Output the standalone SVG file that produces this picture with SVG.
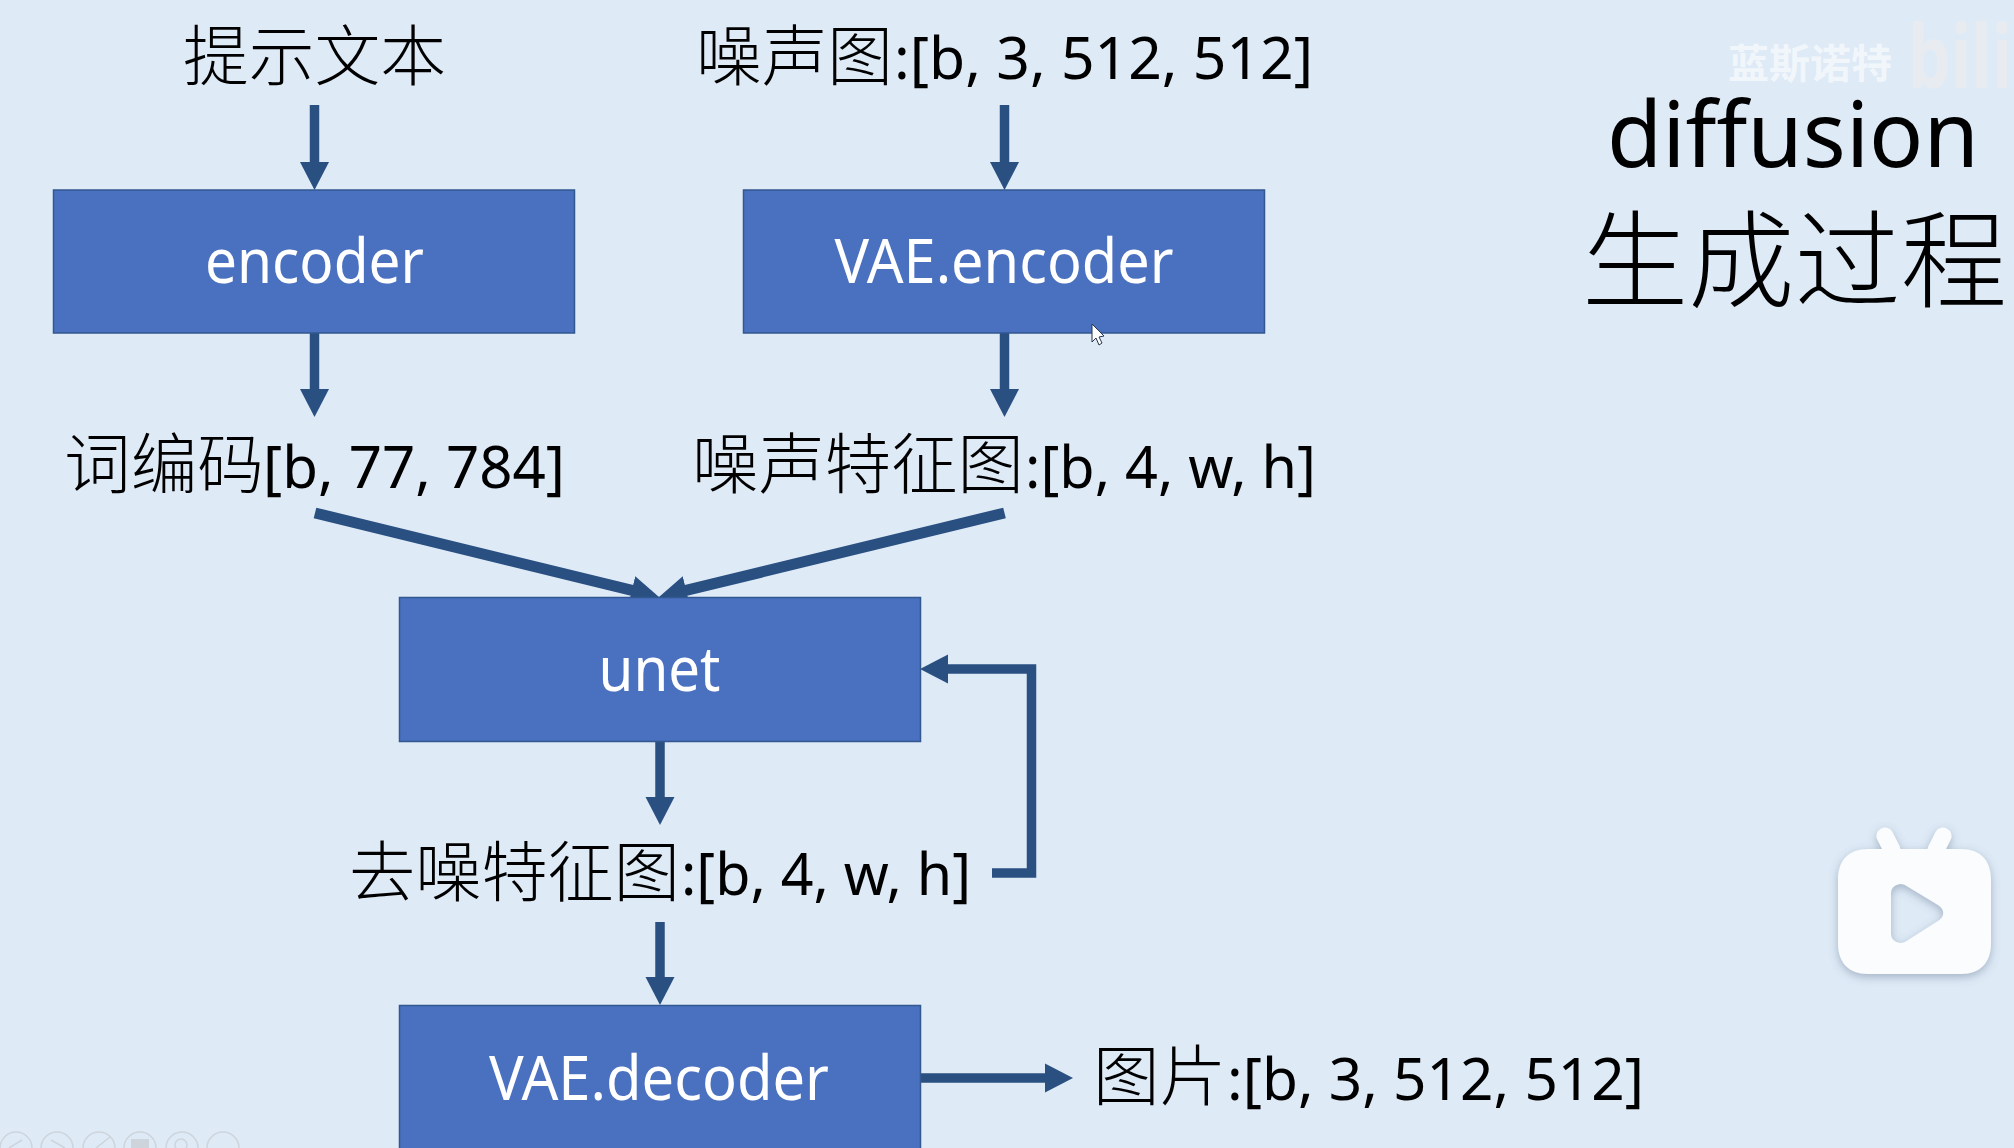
<svg xmlns="http://www.w3.org/2000/svg" width="2014" height="1148" viewBox="0 0 2014 1148">
<style>
text{font-family:"Noto Sans","Noto Sans CJK SC",sans-serif}
.box{fill:#4a70c0;stroke:#33578f;stroke-width:1.5}
.bl{fill:#fff;font-size:62px;text-anchor:middle}
.cn{font-family:"Noto Sans CJK SC",sans-serif;font-weight:300;font-size:66px;fill:#000}
.la{font-family:"Noto Sans",sans-serif;font-size:58px;fill:#000}
.arr{fill:none;stroke:#2a5082;stroke-width:9.500}
.dg{stroke-width:11}
.ctl{fill:none;stroke:#cdd4dc;stroke-width:1.5}
</style>
<defs>
<marker id="head" markerUnits="userSpaceOnUse" markerWidth="30" markerHeight="30" refX="14" refY="15" orient="auto"><path d="M0 0.5L28 15L0 29.5Z" fill="#2a5082"/></marker>
<filter id="sh" x="-20%" y="-20%" width="140%" height="140%"><feDropShadow dx="0" dy="3" stdDeviation="5" flood-color="#5a6f8a" flood-opacity=".45"/></filter>
</defs>
<rect width="2014" height="1148" fill="#deeaf6"/>
<g id="connectors">
<path class="arr" marker-end="url(#head)" d="M314.500 105V176"/>
<path class="arr" marker-end="url(#head)" d="M1004.500 105V176"/>
<path class="arr" marker-end="url(#head)" d="M314.500 333V403"/>
<path class="arr" marker-end="url(#head)" d="M1004.500 333V403"/>
<path class="arr dg" marker-end="url(#head)" d="M315 513L645.400 593.700"/>
<path class="arr dg" marker-end="url(#head)" d="M1004.500 513L672.600 593.700"/>
<path class="arr" marker-end="url(#head)" d="M660 741V811"/>
<path class="arr" marker-end="url(#head)" d="M660 922V991"/>
<path class="arr" marker-end="url(#head)" d="M920 1078H1059"/>
<path class="arr" marker-end="url(#head)" d="M992 873H1031.500V669H934"/>
</g>
<g id="node-prompt"><text class="cn" x="183" y="80" textLength="263" lengthAdjust="spacingAndGlyphs">提示文本</text></g>
<g id="node-noise"><text x="696" y="80"><tspan class="cn" textLength="197" lengthAdjust="spacingAndGlyphs">噪声图</tspan><tspan class="la" x="894" y="79" textLength="419" lengthAdjust="spacingAndGlyphs">:[b, 3, 512, 512]</tspan></text></g>
<g id="node-encoder"><rect class="box" x="53.500" y="190" width="521" height="143"/><text class="bl" x="314.500" y="283" textLength="219" lengthAdjust="spacingAndGlyphs">encoder</text></g>
<g id="node-vae-encoder"><rect class="box" x="743.500" y="190" width="521" height="143"/><text class="bl" x="1004" y="283" textLength="339" lengthAdjust="spacingAndGlyphs">VAE.encoder</text></g>
<g id="node-wordcode"><text x="64" y="488"><tspan class="cn" textLength="200" lengthAdjust="spacingAndGlyphs">词编码</tspan><tspan class="la" x="263" textLength="302" lengthAdjust="spacingAndGlyphs">[b, 77, 784]</tspan></text></g>
<g id="node-noisefeat"><text x="692" y="488"><tspan class="cn" textLength="332" lengthAdjust="spacingAndGlyphs">噪声特征图</tspan><tspan class="la" x="1025" textLength="291" lengthAdjust="spacingAndGlyphs">:[b, 4, w, h]</tspan></text></g>
<g id="node-unet"><rect class="box" x="399.500" y="597.500" width="521" height="144"/><text class="bl" x="659.500" y="691" textLength="122" lengthAdjust="spacingAndGlyphs">unet</text></g>
<g id="node-denoised"><text x="349" y="896"><tspan class="cn" textLength="331" lengthAdjust="spacingAndGlyphs">去噪特征图</tspan><tspan class="la" x="681" y="895" textLength="290" lengthAdjust="spacingAndGlyphs">:[b, 4, w, h]</tspan></text></g>
<g id="node-vae-decoder"><rect class="box" x="399.500" y="1005.500" width="521" height="150"/><text class="bl" x="659" y="1100" textLength="340" lengthAdjust="spacingAndGlyphs">VAE.decoder</text></g>
<g id="node-image"><text x="1093" y="1100"><tspan class="cn" textLength="133" lengthAdjust="spacingAndGlyphs">图片</tspan><tspan class="la" x="1227" textLength="417" lengthAdjust="spacingAndGlyphs">:[b, 3, 512, 512]</tspan></text></g>
<g id="title">
<text x="1607" y="167" font-size="91" fill="#000" textLength="372" lengthAdjust="spacingAndGlyphs">diffusion</text>
<text class="cn" x="1582" y="299" style="font-size:106px" textLength="425" lengthAdjust="spacingAndGlyphs">生成过程</text>
</g>
<g id="watermark">
<text x="1728" y="78" font-size="40" font-weight="700" fill="#fff" fill-opacity=".6" style="font-family:'Noto Sans CJK SC',sans-serif" textLength="164" lengthAdjust="spacingAndGlyphs">蓝斯诺特</text>
<text x="1908" y="88" font-size="88" font-weight="700" fill="#e8ecf1" textLength="104" lengthAdjust="spacingAndGlyphs">bili</text>
</g>
<g id="tv-badge" filter="url(#sh)">
<path d="M1885 836L1892 850M1943 836L1936 850" stroke="#fbfcfe" stroke-width="17" stroke-linecap="round" fill="none"/>
<path fill-rule="evenodd" fill="#fbfcfe" d="M1868 849H1961C1980 849 1991 860 1991 880V943C1991 963 1980 974 1961 974H1868C1849 974 1838 963 1838 943V880C1838 860 1849 849 1868 849ZM1905 885C1899 882 1891 886 1891 893V934C1891 941 1899 945 1905 942L1938 921C1945 917 1945 909 1938 905Z"/>
</g>
<g id="slide-controls">
<circle class="ctl" cx="16" cy="1148" r="16"/><circle class="ctl" cx="57" cy="1148" r="16"/><circle class="ctl" cx="99" cy="1148" r="16"/><circle class="ctl" cx="140" cy="1148" r="16"/><circle class="ctl" cx="182" cy="1148" r="16"/><circle class="ctl" cx="223" cy="1148" r="16"/>
<path class="ctl" d="M22 1140L9 1148M51 1140L65 1148M96 1148L110 1137"/>
<rect x="131" y="1139" width="18" height="9" fill="#cdd4dc"/>
<circle class="ctl" cx="181" cy="1145" r="6" stroke-width="3"/>
</g>
<g id="cursor"><path d="M1092 324V342L1096 338L1099 345L1102 343L1099 337L1104 336Z" fill="#fff" stroke="#26354d" stroke-width="1"/></g>
</svg>
